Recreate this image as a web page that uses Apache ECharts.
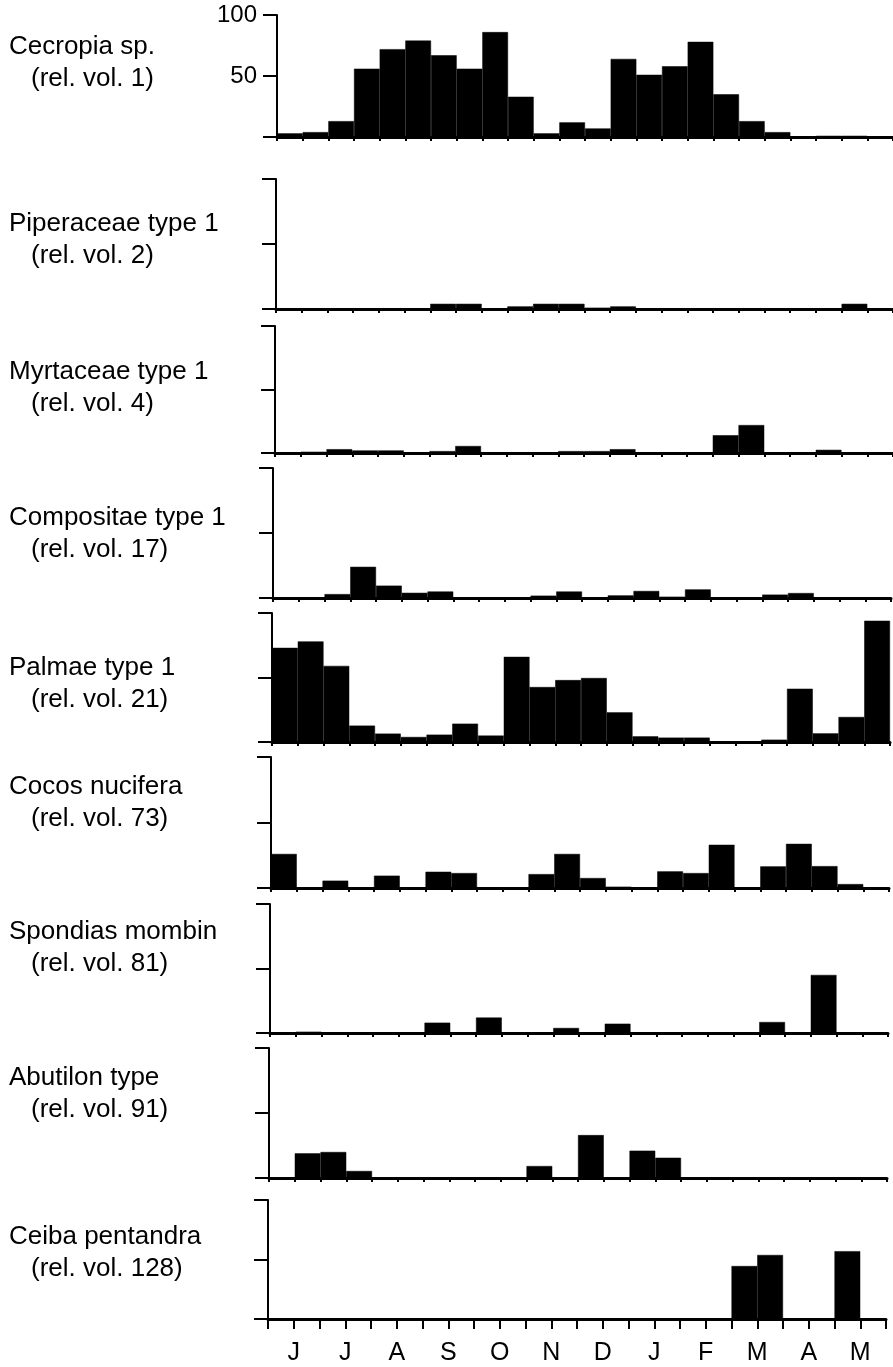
<!DOCTYPE html>
<html>
<head>
<meta charset="utf-8">
<script src="https://cdn.jsdelivr.net/npm/echarts@6/dist/echarts.min.js"></script>
<style>
html,body{margin:0;padding:0;background:#fff;}
#chart{width:893px;height:1367px;}
</style>
</head>
<body>
<div id="chart"></div>
<script>
// ---- data ----
const monthLabels = ['J','J','A','S','O','N','D','J','F','M','A','M'];
const periods = ['Jun-1','Jun-2','Jul-1','Jul-2','Aug-1','Aug-2','Sep-1','Sep-2','Oct-1','Oct-2','Nov-1','Nov-2',
                 'Dec-1','Dec-2','Jan-1','Jan-2','Feb-1','Feb-2','Mar-1','Mar-2','Apr-1','Apr-2','May-1','May-2'];
const yTickLabels = ['0','50','100'];
const speciesNames = ['Cecropia sp.','Piperaceae type 1','Myrtaceae type 1','Compositae type 1','Palmae type 1',
                      'Cocos nucifera','Spondias mombin','Abutilon type','Ceiba pentandra'];
const relVolumes = ['(rel. vol. 1)','(rel. vol. 2)','(rel. vol. 4)','(rel. vol. 17)','(rel. vol. 21)',
                    '(rel. vol. 73)','(rel. vol. 81)','(rel. vol. 91)','(rel. vol. 128)'];

const cecropia    = [3,4,13,56,72,79,67,56,86,33,3,12,7,64,51,58,78,35,13,4,0,1,1,0];
const piperaceae  = [0,0,0,0,0,0,4,4,0,2,4,4,1,2,0.5,0,0,0,0,0,0,0,4,0];
const myrtaceae   = [0,1,3,2,2,0,1.5,5.5,0,0,0,1.5,1.5,3,0.5,0,0,14,22,0,0.5,2.5,0.5,0];
const compositae  = [0,0,3,24,9.5,4,5,0,0,0,1.8,5,0.5,2,5.4,1,6.6,0.3,0,2.6,3.8,0.3,0,0];
const palmae      = [73,78,59,12.7,6.5,3.9,5.7,14.2,5,66,42.6,48,49.6,23,4.4,3.4,3.4,0,0,1.8,41.3,6.7,19.4,94];
const cocos       = [26,0,5.6,0,9.4,0,12.4,11.4,0,0.5,10.6,26,7.6,1,0,12.7,11.4,33,0,16.5,33.7,16.7,3,0];
const spondias    = [0,1,0,0,0,0,8,0,12,0,0,3.9,0,7.2,0,0,0,0,0,8.5,0,45,0,0.5];
const abutilon    = [0,19,20,5.4,0,0,0,0,0,0,9.2,0,33,0,21,15.6,0,0,0,0,0,0,0,0];
const ceiba       = [0,0,0,0,0,0,0,0,0,0,0,0,0,0,0,0,0,0,44.5,53.8,0.5,0,57,0];

const seriesData = [cecropia, piperaceae, myrtaceae, compositae, palmae, cocos, spondias, abutilon, ceiba];

// ---- layout (positions only) ----
const layout = [
  {left:277, top:15,   height:122, labelY:47},
  {left:276, top:179,  height:130, labelY:224},
  {left:275, top:326,  height:127, labelY:372},
  {left:273, top:468,  height:130, labelY:518},
  {left:272, top:613,  height:129, labelY:668},
  {left:271, top:757,  height:131, labelY:787},
  {left:270, top:904,  height:129, labelY:932},
  {left:269, top:1048, height:130, labelY:1078},
  {left:268, top:1200, height:119, labelY:1237}
];
const FONT = '"Liberation Sans", Arial, Helvetica, sans-serif';
const n = seriesData.length;

const grids = [], xAxes = [], yAxes = [], series = [], graphics = [];
for (let i = 0; i < n; i++) {
  const L = layout[i];
  grids.push({left:L.left, top:L.top, width:618, height:L.height});
  xAxes.push({
    type:'category', gridIndex:i, data:periods, boundaryGap:true,
    axisLine:{show:true, lineStyle:{color:'#000', width:3}},
    axisTick:{show:true, interval:0, length:(i === n-1 ? 10 : 4), lineStyle:{color:'#000', width:2}},
    axisLabel:{show:true, interval:0, fontSize:1, margin:0, formatter:() => ''},
    splitLine:{show:false}
  });
  yAxes.push({
    type:'value', gridIndex:i, min:0, max:100, interval:50,
    axisLine:{show:true, lineStyle:{color:'#000', width:2}},
    axisTick:{show:true, length:14, lineStyle:{color:'#000', width:2}},
    axisLabel:{show:(i === 0), fontSize:24, color:'#000', fontFamily:FONT, margin:20,
      formatter: v => (v === 0 ? '' : yTickLabels[Math.round(v/50)])},
    splitLine:{show:false}
  });
  series.push({
    type:'bar', xAxisIndex:i, yAxisIndex:i, data:seriesData[i],
    barCategoryGap:'0%', barGap:'0%', silent:true,
    itemStyle:{color:'#000', borderColor:'#000', borderWidth:0.5}
  });
  graphics.push({type:'text', x:9, y:L.labelY,
    style:{text:speciesNames[i], font:'26px ' + FONT, fill:'#000', verticalAlign:'middle', align:'left'}});
  graphics.push({type:'text', x:31, y:L.labelY + 32,
    style:{text:relVolumes[i], font:'26px ' + FONT, fill:'#000', verticalAlign:'middle', align:'left'}});
}
// month label axis on bottom panel (labels centred on each month, i.e. at mid-month ticks)
xAxes.push({
  type:'category', gridIndex:n-1, data:monthLabels, boundaryGap:true, position:'bottom',
  axisLine:{show:false},
  axisTick:{show:true, alignWithLabel:true, interval:0, length:10, lineStyle:{color:'#000', width:2}},
  axisLabel:{show:true, interval:0, margin:22, fontSize:25, color:'#000', fontFamily:FONT},
  splitLine:{show:false}
});

const chart = echarts.init(document.getElementById('chart'), null, {renderer:'canvas'});
chart.setOption({
  animation:false,
  backgroundColor:'#fff',
  grid:grids, xAxis:xAxes, yAxis:yAxes, series:series, graphic:graphics
});
</script>
</body>
</html>
